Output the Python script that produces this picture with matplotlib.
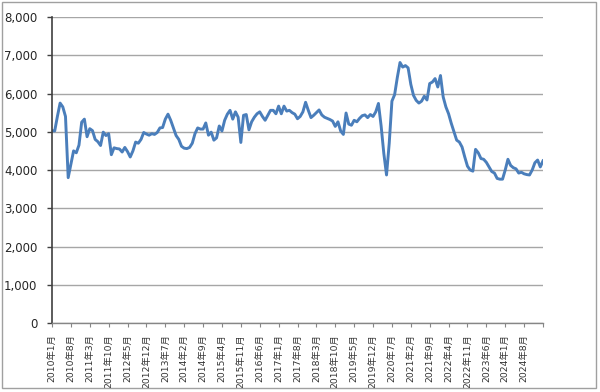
import matplotlib
matplotlib.use("Agg")
import matplotlib.pyplot as plt
from matplotlib.patches import Rectangle
import numpy as np

# Monthly series, 2010年1月 .. 2025年3月
start_year, start_month = 2010, 1
values = [
    5030, 5020, 5400, 5750, 5650, 5400, 3800, 4150, 4500, 4450,
    4650, 5250, 5330, 4870, 5080, 5030, 4800, 4740, 4640, 4990,
    4900, 4950, 4400, 4580, 4560, 4550, 4470, 4590, 4480, 4340,
    4500, 4730, 4700, 4800, 4980, 4940, 4910, 4950, 4930, 4980,
    5100, 5110, 5330, 5460, 5300, 5100, 4900, 4800, 4620, 4570,
    4560, 4590, 4700, 4950, 5100, 5070, 5070, 5230, 4910, 4990,
    4780, 4840, 5150, 5020, 5300, 5460, 5560, 5330, 5520, 5380,
    4720, 5430, 5450, 5050, 5260, 5380, 5470, 5520, 5400, 5300,
    5430, 5560, 5560, 5470, 5670, 5470, 5670, 5540, 5560, 5500,
    5460, 5340, 5400, 5520, 5770, 5560, 5370, 5430, 5500, 5570,
    5440, 5380, 5350, 5320, 5280, 5140, 5260, 5020, 4930, 5490,
    5200, 5170, 5300, 5260, 5350, 5420, 5440, 5370, 5450, 5400,
    5520, 5740, 5150, 4430, 3870, 4700, 5800, 5970, 6420, 6810,
    6690, 6730, 6670, 6240, 5950, 5820, 5750, 5800, 5930, 5830,
    6260, 6300, 6390, 6170, 6470, 5910, 5650, 5470, 5220, 5000,
    4780, 4730, 4600, 4340, 4100, 4000, 3970, 4540, 4450, 4300,
    4280, 4200, 4080, 3960, 3920, 3780, 3760, 3760, 4000, 4280,
    4120, 4060, 4030, 3920, 3940, 3900, 3880, 3870, 4000, 4190,
    4260, 4080, 4240,
]

tick_labels = [
    "2010年1月", "2010年8月", "2011年3月", "2011年10月", "2012年5月",
    "2012年12月", "2013年7月", "2014年2月", "2014年9月", "2015年4月",
    "2015年11月", "2016年6月", "2017年1月", "2017年8月", "2018年3月",
    "2018年10月", "2019年5月", "2019年12月", "2020年7月", "2021年2月",
    "2021年9月", "2022年4月", "2022年11月", "2023年6月", "2024年1月",
    "2024年8月", "",
]
tick_step = 7
y_ticks = [0, 1000, 2000, 3000, 4000, 5000, 6000, 7000, 8000]

x = np.arange(len(values))

fig = plt.figure(figsize=(6.0, 3.92), dpi=100)
ax = fig.add_axes([52 / 600, 1 - 323 / 392, (543 - 52) / 600, (323 - 17) / 392])

ax.plot(x, values, color="#4A7EBB", linewidth=2.1, solid_joinstyle="round")

ax.set_xlim(0, len(values) - 1)
ax.set_ylim(0, 8000)
ax.set_yticks(y_ticks)
ax.set_yticklabels([f"{v:,}" for v in y_ticks], fontsize=8.5, color="#262626",
                   family=["DejaVu Sans"])
ax.yaxis.grid(True, color="#A6A6A6", linewidth=1.0)
ax.set_axisbelow(True)

tick_pos = np.arange(0, len(values), tick_step)
ax.set_xticks(tick_pos)
ax.set_xticklabels(tick_labels[:len(tick_pos)], rotation=90, fontsize=6.7,
                   color="#333333", family=["DejaVu Sans", "Noto Sans CJK JP"])

ax.tick_params(axis="y", direction="out", length=3.5, width=1, color="#404040", pad=7)
ax.tick_params(axis="x", direction="out", length=3, width=0.8, color="#868686", pad=5)

for s in ["top", "right"]:
    ax.spines[s].set_visible(False)
ax.spines["left"].set_color("#404040")
ax.spines["left"].set_linewidth(1.2)
ax.spines["bottom"].set_color("#868686")
ax.spines["bottom"].set_linewidth(1.0)

fig.patches.append(Rectangle((2 / 600, 4 / 392), 594 / 600, 386 / 392,
                             transform=fig.transFigure, fill=False,
                             edgecolor="#A0A0A0", linewidth=1.0))

fig.savefig("out.png", dpi=100)
